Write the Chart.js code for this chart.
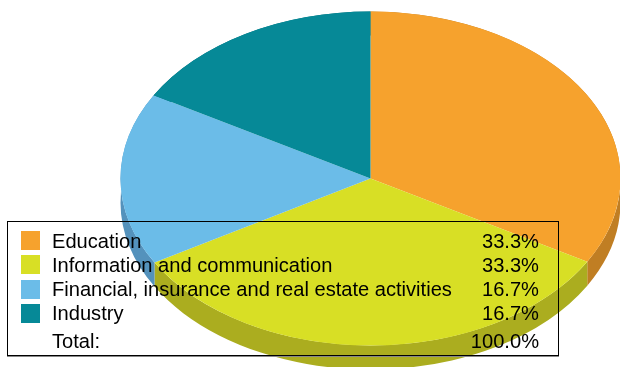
<!DOCTYPE html>
<html>
<head>
<meta charset="utf-8">
<script src="https://cdn.jsdelivr.net/npm/chart.js@4/dist/chart.umd.min.js"></script>
<style>
  html, body { margin: 0; padding: 0; background: #fff; }
  #wrap { position: relative; width: 620px; height: 367px; overflow: hidden; font-family: "Liberation Sans", Arial, sans-serif; }
  #pie { position: absolute; left: 0; top: 0; }
  #legendBox { position: absolute; left: 7px; top: 221px; width: 550px; height: 133px; border: 1px solid #000; box-shadow: 0 1px 0 #888; }
  .swatch { position: absolute; left: 21px; width: 19px; height: 19px; }
  .name, .pct { position: absolute; font-size: 20.1px; line-height: 24px; height: 24px; color: #000; white-space: nowrap; }
  .name { left: 52px; }
  .pct { right: 81px; }
</style>
</head>
<body>
<div id="wrap">
  <canvas id="pie" width="620" height="367"></canvas>
  <div id="legendBox"></div>
</div>
<script>
const categories = ["Education", "Information and communication", "Financial, insurance and real estate activities", "Industry"];
const shares = [33.3, 33.3, 16.7, 16.7];
const shareLabels = ["33.3%", "33.3%", "16.7%", "16.7%"];
const totalLabel = "Total:";
const totalValue = "100.0%";
const colors = ["#f6a22d", "#d8df25", "#6bbce8", "#068997"];
const sideColors = ["#c07e23", "#abad1f", "#5492bc", "#056b76"];

const squash = 0.668; // ellipse height / width
const depth = 24;     // height of the side wall

// Chart.js only draws round pies, so squash the context and add the side wall
const tiltPlugin = {
  id: "tilt",
  beforeDatasetsDraw(chart) {
    const ctx = chart.ctx;
    const arcs = chart.getDatasetMeta(0).data;
    arcs.forEach((arc, i) => {
      const p = arc.getProps(["x", "y", "startAngle", "endAngle", "outerRadius"], true);
      const ry = p.outerRadius * squash;
      ctx.beginPath();
      ctx.ellipse(p.x, p.y, p.outerRadius, ry, 0, p.startAngle, p.endAngle);
      ctx.ellipse(p.x, p.y + depth, p.outerRadius, ry, 0, p.endAngle, p.startAngle, true);
      ctx.closePath();
      ctx.fillStyle = sideColors[i];
      ctx.fill();
    });
    const c = arcs[0];
    ctx.save();
    ctx.translate(c.x, c.y);
    ctx.scale(1, squash);
    ctx.translate(-c.x, -c.y);
  },
  afterDatasetsDraw(chart) {
    chart.ctx.restore();
  },
};

new Chart(document.getElementById("pie"), {
  type: "pie",
  data: {
    labels: categories,
    datasets: [{ data: shares, backgroundColor: colors, borderWidth: 0, clip: false }],
  },
  options: {
    responsive: false,
    animation: false,
    radius: 250,
    layout: { padding: { left: 121, bottom: 10 } },
    plugins: { legend: { display: false }, tooltip: { enabled: false } },
  },
  plugins: [tiltPlugin],
});

// Legend goes on top of the pie as plain html
const wrap = document.getElementById("wrap");

function addText(cls, text, top) {
  const el = document.createElement("div");
  el.className = cls;
  el.textContent = text;
  el.style.top = top + "px";
  wrap.appendChild(el);
}

categories.forEach((name, i) => {
  const swatch = document.createElement("div");
  swatch.className = "swatch";
  swatch.style.background = colors[i];
  swatch.style.top = 231 + i * 24.4 + "px";
  wrap.appendChild(swatch);
  addText("name", name, 229 + i * 24);
  addText("pct", shareLabels[i], 229 + i * 24);
});
addText("name", totalLabel, 329);
addText("pct", totalValue, 329);
</script>
</body>
</html>
